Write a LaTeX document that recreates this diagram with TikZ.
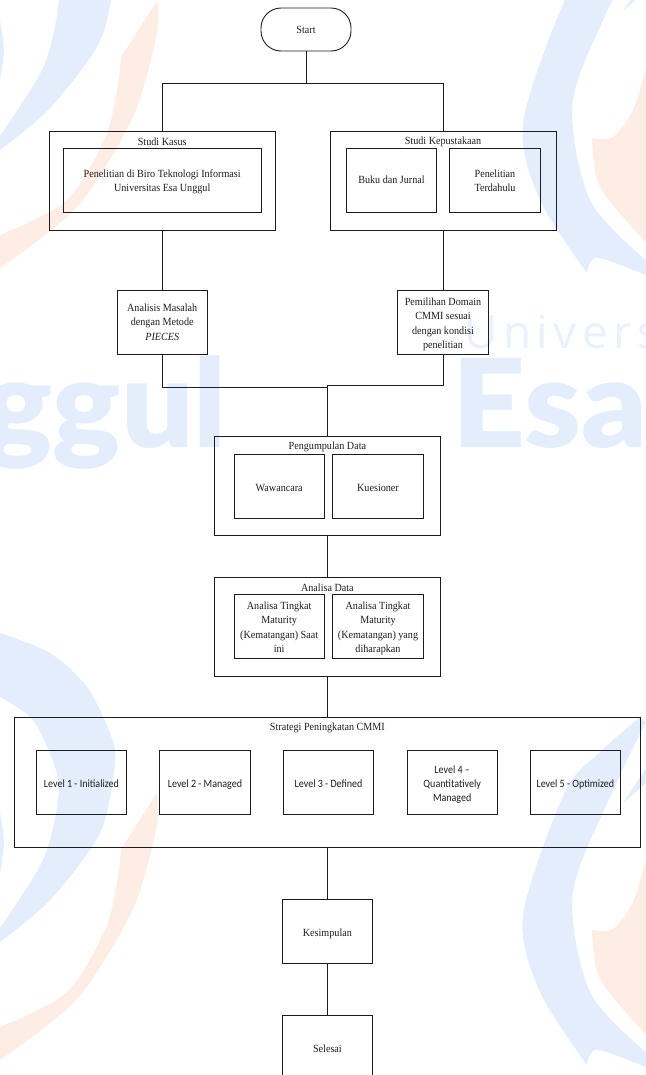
\documentclass[tikz,border=0pt]{standalone}
\usepackage{fontspec}
\setmainfont{Liberation Serif}[FakeStretch=0.925]
\newfontfamily\lvlfont{Carlito}[FakeStretch=0.9]
\newfontfamily\wmbold{Lato Black}[FakeStretch=1.04]
\newfontfamily\wmthin{Open Sans}[LetterSpace=12]
\definecolor{wmblue}{HTML}{E3EDFC}
\definecolor{wmorange}{HTML}{FEEDE5}
\definecolor{ink}{HTML}{1C1C1C}
\newcommand{\lowered}[2]{\raisebox{-#1bp}[\height][\depth]{\begin{tabular}{@{}c@{}}#2\end{tabular}}}
\tikzset{
  box/.style={draw=ink,line width=0.9bp,inner sep=0pt,align=center,font=\fontsize{11}{14.4}\selectfont,text=ink},
  title/.style={inner sep=0pt,font=\fontsize{11}{14.4}\selectfont,text=ink},
  lvl/.style={box,font=\lvlfont\fontsize{11.2}{14}\selectfont,minimum width=90.2bp,minimum height=64bp},
  small/.style={box,minimum width=90.2bp,minimum height=64bp},
  link/.style={draw=ink,line width=0.9bp},
  wmtext/.style={inner sep=0pt,text=wmblue,anchor=base}
}
\newcommand{\wmtile}[1]{%
\begin{scope}[yshift=#1]
  \fill[wmblue] plot[smooth] coordinates {(0,-159) (50,-139) (87,-105) (110,-59) (115,-29) (100,41) (50,108) (0,150)}
    -- plot[smooth] coordinates {(0,136) (43,68) (58,8) (55,-25) (33,-72) (0,-95)} -- cycle;
  \fill[wmblue] plot[smooth] coordinates {(0,20) (4,50) (0,80)} -- cycle;
  \fill[wmorange] plot[smooth] coordinates {(157,1) (157,33) (133,117) (77,207) (0,268)}
    -- plot[smooth] coordinates {(0,235) (67,200) (107,133) (120,70)} -- (121,57) -- cycle;
  \fill[wmblue] plot[smooth] coordinates {(640,-75) (600,-40) (565,0) (523,123) (540,200) (587,273)}
    -- plot[smooth] coordinates {(587,273) (590,263) (600,258) (646,275)}
    -- plot[smooth] coordinates {(646,260) (590,200) (573,100) (617,-10) (646,-70)} -- cycle;
  \fill[wmblue] (623,11) -- (646,-24) -- (646,-9) -- cycle;
  \fill[wmorange] plot[smooth] coordinates {(646,67) (633,110) (613,137) (592,138)}
    -- plot[smooth] coordinates {(592,138) (600,187) (646,243)} -- cycle;
\end{scope}}
\begin{document}
\begin{tikzpicture}[x=1bp,y=-1bp]
\useasboundingbox (0,0) rectangle (646,1075);
\clip (0,0) rectangle (646,1075);
% watermark
\wmtile{0bp}
\wmtile{-792bp}
\node[wmtext,anchor=base west,text=wmblue!75!white] (wmu) at (464,348) {\wmthin\fontsize{46}{46}\selectfont Univers};
\node[wmtext,anchor=base west] (wme) at (452,447) {\wmbold\fontsize{123}{123}\selectfont Esa};
\node[wmtext,anchor=base east] (wmg) at (227,447) {\wmbold\fontsize{123}{123}\selectfont ggul};
% nodes
\node[box,rounded corners=20bp,minimum width=90bp,minimum height=43bp] (start) at (306,29.5) {Start};
\node[box,minimum width=225.6bp,minimum height=99bp] (sk) at (162.2,180.5) {};
\node[title] (skt) at (162.2,141.5) {Studi Kasus};
\node[box,minimum width=197.5bp,minimum height=64bp] (bti) at (162.2,180) {\lowered{1.5}{Penelitian di Biro Teknologi Informasi\\Universitas Esa Unggul}};
\node[box,minimum width=226bp,minimum height=99bp] (sp) at (443,180.5) {};
\node[title] (spt) at (443,141.5) {Studi Kepustakaan};
\node[small] (buku) at (391.5,180) {Buku dan Jurnal};
\node[small] (pt) at (495,180) {\lowered{1.5}{Penelitian\\Terdahulu}};
\node[small] (am) at (162.2,322) {Analisis Masalah\\dengan Metode\\\textit{PIECES}};
\node[small] (pd) at (443,322) {\lowered{2}{Pemilihan Domain\\CMMI sesuai\\dengan kondisi\\penelitian}};
\node[box,minimum width=226.5bp,minimum height=99bp] (pg) at (327.4,486.2) {};
\node[title] (pgt) at (327.4,447.3) {Pengumpulan Data};
\node[small] (waw) at (279.2,486) {\lowered{3}{Wawancara}};
\node[small] (kue) at (378,486) {\lowered{3}{Kuesioner}};
\node[box,minimum width=226.5bp,minimum height=99bp] (ad) at (327.4,626.5) {};
\node[title] (adt) at (327.4,588) {Analisa Data};
\node[small] (a1) at (279.2,626.7) {\lowered{1.5}{Analisa Tingkat\\Maturity\\(Kematangan) Saat\\ini}};
\node[small] (a2) at (378,626.7) {\lowered{1.5}{Analisa Tingkat\\Maturity\\(Kematangan) yang\\diharapkan}};
\node[box,minimum width=626.3bp,minimum height=129.7bp] (st) at (327.4,782.2) {};
\node[title] (stt) at (327.4,728) {Strategi Peningkatan CMMI};
\node[lvl] (l1) at (81.4,782.3) {\lowered{2}{Level 1 - Initialized}};
\node[lvl] (l2) at (205,782.3) {\lowered{2}{Level 2 - Managed}};
\node[lvl] (l3) at (328.6,782.3) {\lowered{2}{Level 3 - Defined}};
\node[lvl] (l4) at (452.2,782.3) {\lowered{2}{Level 4 –\\Quantitatively\\Managed}};
\node[lvl] (l5) at (575.4,782.3) {\lowered{2}{Level 5 - Optimized}};
\node[small] (ke) at (327.4,931.3) {\lowered{2}{Kesimpulan}};
\node[small] (se) at (327.4,1047) {\lowered{3}{Selesai}};
% junctions
\coordinate (j) at (306,83);
\coordinate (mleft) at (327.4,387);
\coordinate (mright) at (327.4,385.7);
% connectors
\draw[link] (start.south) -- (j);
\draw[link] (sk.north) |- (j);
\draw[link] (sp.north) |- (j);
\draw[link] (sk.south) -- (am.north);
\draw[link] (sp.south) -- (pd.north);
\draw[link] (am.south) |- (mleft);
\draw[link] (pd.south) |- (mright);
\draw[link] (mleft) -- (mright);
\draw[link] (mright) -- (pg.north);
\draw[link] (pg.south) -- (ad.north);
\draw[link] (ad.south) -- (st.north);
\draw[link] (st.south) -- (ke.north);
\draw[link] (ke.south) -- (se.north);
\end{tikzpicture}
\end{document}
